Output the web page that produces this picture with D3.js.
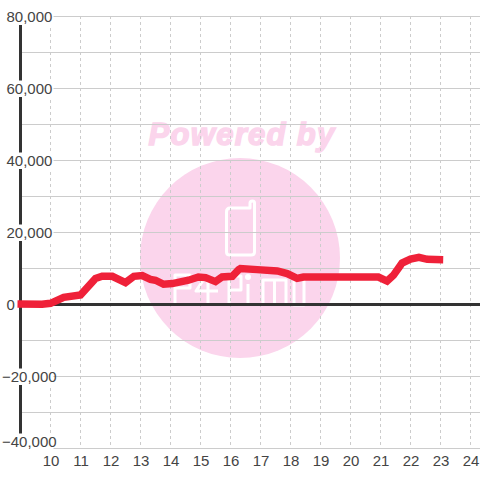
<!DOCTYPE html>
<html><head><meta charset="utf-8">
<script src="https://cdn.jsdelivr.net/npm/d3@7"></script>
<style>html,body{margin:0;padding:0;background:#fff}svg{display:block}text{font-family:"Liberation Sans",Arial,sans-serif}</style>
</head><body><svg id="c" width="480" height="480"></svg>
<script>
const hours=[8.9,9.72,10,10.44,11,11.5,11.72,12.06,12.5,12.78,13.06,13.33,13.5,13.77,14.06,14.6,14.93,15.17,15.5,15.72,16.06,16.27,16.33,16.89,17.56,17.89,18.22,18.43,20.93,21.22,21.43,21.72,22,22.28,22.56,23.09];
const values=[0,-90,190,1860,2500,7100,7700,7700,5950,7700,7900,6850,6600,5480,5680,6600,7500,7330,6220,7500,7700,9550,9830,9550,9170,8440,7130,7500,7500,6380,7970,11380,12500,12970,12420,12320];
const yTicks=[-40000,-20000,0,20000,40000,60000,80000];
const yGrid=[-40000,-30000,-20000,-10000,0,10000,20000,30000,40000,50000,60000,70000,80000];
const xTicks=[10,11,12,13,14,15,16,17,18,19,20,21,22,23,24];
const svg=d3.select("#c");
const x=d3.scaleLinear().domain([9,24]).range([20.5,470.5]);
const y=d3.scaleLinear().domain([-40000,80000]).range([448,16]);
const bg=svg.append("g");
bg.append("circle").attr("cx",240).attr("cy",258).attr("r",100).attr("fill","#fbd5ec");
bg.append("text").attr("x",242).attr("y",145).attr("text-anchor","middle").attr("font-size",31).attr("font-weight","bold").attr("font-style","italic").attr("fill","#fbd5ec").attr("stroke","#fbd5ec").attr("stroke-width",1.5).attr("letter-spacing",1.3).text("Powered by");
const logo=bg.append("g").attr("fill","none").attr("stroke","#fff").attr("stroke-width",3).attr("stroke-linejoin","round");
logo.append("path").attr("d","M230 208 H250 V203 Q250 201 252.5 201 Q254.5 201 254.5 203 V252 Q254.5 255 251 255 H230 Q226.5 255 226.5 252 V212 Q226.5 208 230 208Z");
logo.append("path").attr("d","M175 304 V275 H190 V288 H175 M206 276 L196 291 H218 M208 280 V304 M229 304 V276 H241 V290 H229 M248 304 V284 M263 304 V280 H286 V304 M274.5 280 V304 M294 280 V305 H304 V280");
bg.append("circle").attr("cx",248).attr("cy",277).attr("r",3).attr("fill","#fff");
const grid=svg.append("g");
grid.selectAll("line.h").data(yGrid).join("line").attr("class","h").attr("x1",20).attr("x2",480).attr("y1",d=>Math.round(y(d))+.5).attr("y2",d=>Math.round(y(d))+.5).attr("stroke","#ccc");
grid.selectAll("line.v").data(xTicks).join("line").attr("class","v").attr("x1",d=>x(d)).attr("x2",d=>x(d)).attr("y1",16).attr("y2",448).attr("stroke","#ccc").attr("stroke-dasharray","3 3");
svg.append("line").attr("x1",x(9)).attr("x2",x(9)).attr("y1",16).attr("y2",448).attr("stroke","#333").attr("stroke-width",3);
svg.append("line").attr("x1",20).attr("x2",480).attr("y1",y(0)+.5).attr("y2",y(0)+.5).attr("stroke","#333").attr("stroke-width",3);
const fmt=d3.format(",");
const lab=svg.append("g");
yTicks.forEach(v=>{
  const yy=v===-40000?y(v)-6.5:y(v)+.5;
  lab.append("text").attr("x",v<0?2:6.5).attr("y",yy+5.3).attr("font-size",15).attr("fill","#444").text(fmt(v));
  if(v!==0) lab.insert("rect","text").attr("x",0).attr("y",yy-8).attr("width",53.5).attr("height",16.5).attr("fill","#fff");
});
lab.selectAll("text.x").data(xTicks).join("text").attr("class","x").attr("x",d=>x(d)+.5).attr("y",466).attr("text-anchor","middle").attr("font-size",15).attr("fill","#444").text(d=>d);
const line=d3.line().x((d,i)=>x(hours[i])).y(d=>y(d));
svg.append("path").attr("d",line(values)).attr("fill","none").attr("stroke","#ef2139").attr("stroke-width",7.5).attr("stroke-linejoin","miter");
</script></body></html>
